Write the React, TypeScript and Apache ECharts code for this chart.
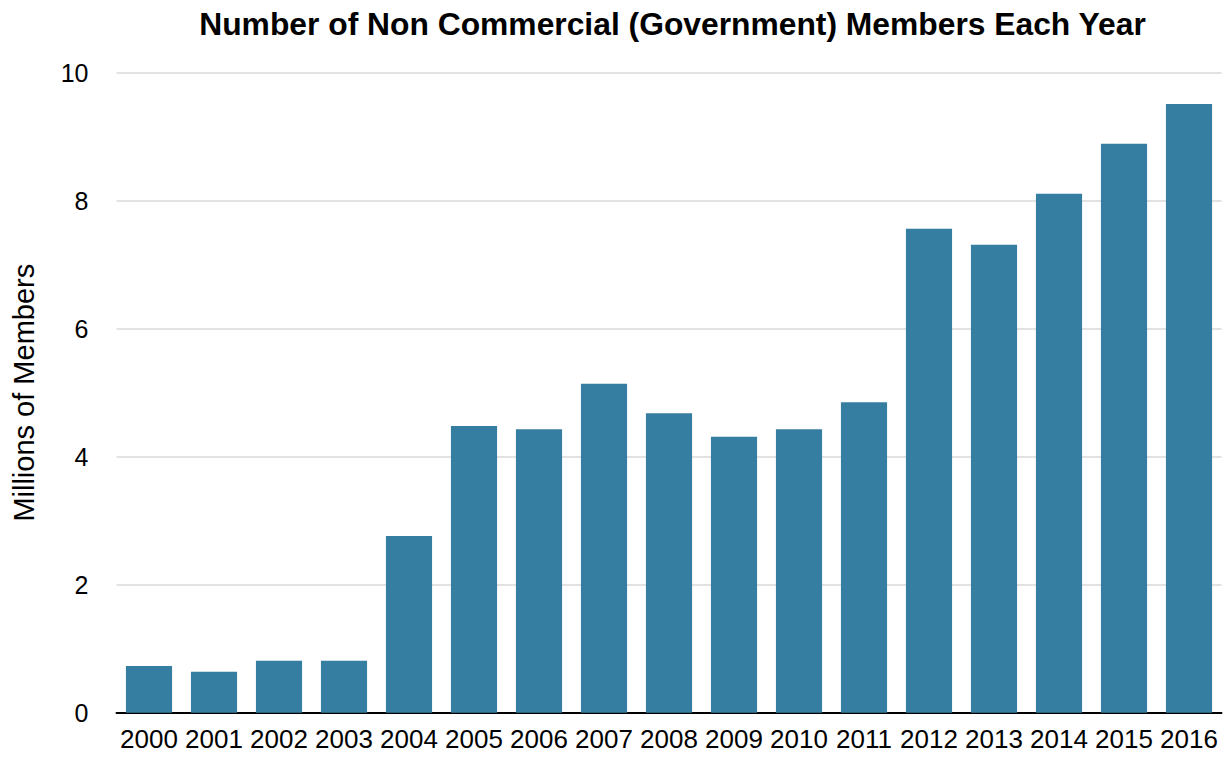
import React, { useEffect, useRef } from "react";
import * as echarts from "echarts";

const years = ["2000","2001","2002","2003","2004","2005","2006","2007","2008","2009","2010","2011","2012","2013","2014","2015","2016"];
const members = [0.73,0.64,0.81,0.81,2.76,4.48,4.43,5.14,4.68,4.31,4.43,4.85,7.56,7.31,8.11,8.89,9.51];
const yTicks = [0, 2, 4, 6, 8, 10];

const FONT = "'Liberation Sans', Arial, Helvetica, sans-serif";

export default function App() {
  const ref = useRef<HTMLDivElement>(null);
  useEffect(() => {
    if (!ref.current) return;
    const chart = echarts.init(ref.current, null, { renderer: "svg" });
    chart.setOption({
      animation: false,
      backgroundColor: "#ffffff",
      textStyle: { fontFamily: FONT },
      title: {
        text: "Number of Non Commercial (Government) Members Each Year",
        left: 667.5,
        top: 3,
        textAlign: "center",
        textStyle: { fontFamily: FONT, fontWeight: "bold", fontSize: 31.8, color: "#000" },
      },
      grid: { left: 116.5, right: 3.5, top: 72.7, bottom: 44.3 },
      xAxis: {
        type: "category",
        data: years,
        axisLine: { lineStyle: { color: "#000", width: 2 } },
        axisTick: { show: false },
        axisLabel: { fontSize: 26, color: "#000", margin: 13, fontFamily: FONT, interval: 0 },
      },
      yAxis: {
        type: "value",
        min: yTicks[0],
        max: yTicks[yTicks.length - 1],
        interval: 2,
        name: "Millions of Members",
        nameLocation: "middle",
        nameRotate: 90,
        nameGap: 78,
        nameTextStyle: { fontSize: 29, color: "#000", fontFamily: FONT },
        axisLine: { show: false },
        axisTick: { show: false },
        axisLabel: { fontSize: 25, color: "#000", margin: 28, fontFamily: FONT },
        splitLine: { lineStyle: { color: "#d9d9d9", width: 1.5 } },
      },
      series: [
        {
          type: "bar",
          data: members,
          barCategoryGap: "29%",
          itemStyle: { color: "#367ea1" },
        },
      ],
    });
    return () => chart.dispose();
  }, []);
  return <div ref={ref} style={{ position: "fixed", left: 0, top: 0, width: 1225, height: 757 }} />;
}
